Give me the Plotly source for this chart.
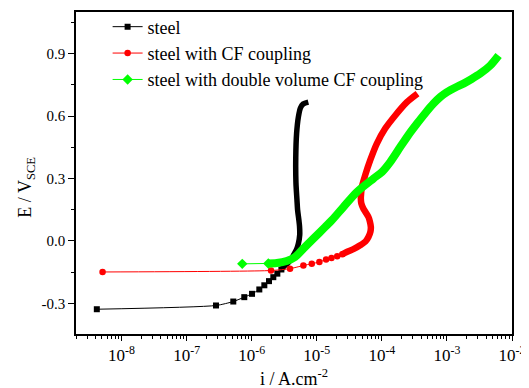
import plotly.graph_objects as go

# ---- data (log10 of current density in A/cm2, potential in V vs SCE) ----
steel_sparse_logi = [-8.38, -6.549, -6.283, -6.114, -5.995, -5.883, -5.806, -5.734, -5.668, -5.606, -5.544]
steel_sparse_E = [-0.328, -0.310, -0.291, -0.270, -0.254, -0.233, -0.213, -0.193, -0.174, -0.157, -0.137]
steel_dense_logi = [-5.544, -5.49, -5.452, -5.40, -5.36, -5.31, -5.283, -5.262, -5.265, -5.275, -5.295,
                    -5.305, -5.32, -5.323, -5.31, -5.283, -5.25, -5.21, -5.13]
steel_dense_E = [-0.137, -0.118, -0.109, -0.09, -0.069, -0.04, -0.013, 0.03, 0.07, 0.10, 0.15,
                 0.20, 0.28, 0.40, 0.516, 0.595, 0.64, 0.658, 0.667]

cf_sparse_logi = [-8.292, -5.703, -5.411, -5.206, -5.077, -4.96, -4.857, -4.774, -4.686, -4.608]
cf_sparse_E = [-0.149, -0.142, -0.133, -0.118, -0.109, -0.101, -0.089, -0.082, -0.073, -0.064]
cf_dense_logi = [-4.608, -4.54, -4.43, -4.334, -4.25, -4.206, -4.175, -4.169, -4.185, -4.206, -4.25,
                 -4.283, -4.315, -4.323, -4.318, -4.308, -4.257, -4.18, -4.077, -3.949, -3.795,
                 -3.615, -3.452]
cf_dense_E = [-0.064, -0.053, -0.038, -0.021, -0.002, 0.019, 0.045, 0.067, 0.095, 0.115, 0.138,
              0.155, 0.18, 0.204, 0.23, 0.259, 0.315, 0.387, 0.468, 0.54, 0.603,
              0.667, 0.708]

dcf_sparse_logi = [-6.145, -5.745]
dcf_sparse_E = [-0.110, -0.108]
dcf_dense_logi = [-5.745, -5.615, -5.462, -5.334, -5.206, -5.052, -4.872, -4.769, -4.591, -4.385,
                  -4.129, -4.0, -3.872, -3.718, -3.59, -3.462, -3.33, -3.206, -3.10, -3.0,
                  -2.87, -2.745, -2.62, -2.488, -2.334, -2.206]
dcf_dense_E = [-0.108, -0.106, -0.096, -0.077, -0.037, 0.011, 0.067, 0.099, 0.163, 0.235,
               0.30, 0.331, 0.379, 0.451, 0.51, 0.563, 0.615, 0.66, 0.692, 0.715,
               0.737, 0.756, 0.778, 0.804, 0.843, 0.891]

series_names = ["steel", "steel with CF coupling", "steel with double volume CF coupling"]
x_tick_exponents = [-8, -7, -6, -5, -4, -3, -2]
y_tick_values = [-0.3, 0.0, 0.3, 0.6, 0.9]
y_tick_labels = ["-0.3", "0.0", "0.3", "0.6", "0.9"]

FONT = "Liberation Serif"

def tolin(v):
    return [10 ** a for a in v]

fig = go.Figure()

specs = [
    (series_names[0], steel_sparse_logi, steel_sparse_E, steel_dense_logi, steel_dense_E,
     "#000000", "square", 6, 5.5),
    (series_names[1], cf_sparse_logi, cf_sparse_E, cf_dense_logi, cf_dense_E,
     "#ff0000", "circle", 6.5, 6.5),
    (series_names[2], dcf_sparse_logi, dcf_sparse_E, dcf_dense_logi, dcf_dense_E,
     "#00ff00", "diamond", 8, 8),
]

for name, sx, sy, dx, dy, col, sym, msize, bandw in specs:
    fig.add_trace(go.Scatter(
        x=tolin(sx), y=sy, name=name, mode="lines+markers",
        line=dict(color=col, width=1, shape="spline", smoothing=0.6),
        marker=dict(symbol=sym, size=msize, color=col),
        legendgroup=name, showlegend=True))
    fig.add_trace(go.Scatter(
        x=tolin(dx), y=dy, name=name, mode="lines",
        line=dict(color=col, width=bandw, shape="spline", smoothing=0.8),
        legendgroup=name, showlegend=False, hoverinfo="skip"))

# the page body has an 8 px default margin; the figure is sized to compensate
fig.update_layout(
    width=521, height=380,
    margin=dict(l=68, r=17, t=4, b=54, autoexpand=False),
    paper_bgcolor="white", plot_bgcolor="white",
    font=dict(family=FONT, color="black", size=16),
    showlegend=True,
    legend=dict(x=0.0725, y=1.011, xanchor="left", yanchor="top",
                bgcolor="rgba(0,0,0,0)", borderwidth=0,
                font=dict(family=FONT, size=18), tracegroupgap=0),
    xaxis=dict(
        type="log", range=[-8.70, -2.0],
        tickvals=[10 ** e for e in x_tick_exponents],
        ticktext=["10<sup>%d</sup>" % e for e in x_tick_exponents],
        ticks="outside", ticklen=5, tickwidth=1.2, tickcolor="black",
        minor=dict(ticks="outside", ticklen=3, tickwidth=1, tickcolor="black", dtick="D1"),
        showline=True, linecolor="black", linewidth=1.5, mirror=True,
        showgrid=False, zeroline=False,
        tickfont=dict(family=FONT, size=17),
    ),
    yaxis=dict(
        range=[-0.447, 1.10],
        tickvals=y_tick_values, ticktext=y_tick_labels,
        ticks="outside", ticklen=6, tickwidth=1.2, tickcolor="black",
        minor=dict(ticks="outside", ticklen=3, tickwidth=1, tickcolor="black", dtick=0.15, tick0=0.15),
        showline=True, linecolor="black", linewidth=1.5, mirror=True,
        showgrid=False, zeroline=False,
        tickfont=dict(family=FONT, size=15),
    ),
    annotations=[
        dict(text="E / V<sub>SCE</sub>", textangle=-90, xref="paper", yref="paper",
             x=-0.114, y=0.455, xanchor="center", yanchor="middle", showarrow=False,
             font=dict(family=FONT, size=18)),
        dict(text="i / A.cm<sup>-2</sup>", xref="paper", yref="paper",
             x=0.5, y=-0.092, xanchor="center", yanchor="top", showarrow=False,
             font=dict(family=FONT, size=18)),
    ],
)

fig.write_html("out.html")
